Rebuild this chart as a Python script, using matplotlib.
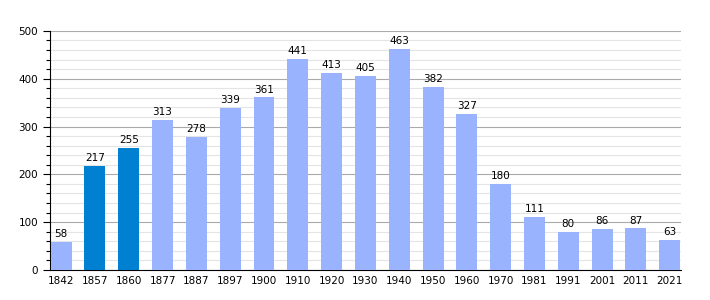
import matplotlib.pyplot as plt
from matplotlib.ticker import MultipleLocator

# Données
annees = ['1842', '1857', '1860', '1877', '1887', '1897', '1900', '1910', '1920', '1930',
          '1940', '1950', '1960', '1970', '1981', '1991', '2001', '2011', '2021']
population = [58, 217, 255, 313, 278, 339, 361, 441, 413, 405,
              463, 382, 327, 180, 111, 80, 86, 87, 63]
foncees = ['1857', '1860']

couleurs = ['#0080d0' if a in foncees else '#99b3ff' for a in annees]

fig = plt.figure(figsize=(7.1, 3.0), dpi=100)
ax = fig.add_axes([0.0704, 0.1, 0.8886, 0.797])

x = range(len(annees))
barres = ax.bar(x, population, width=0.62, color=couleurs, zorder=3)

for xi, v in zip(x, population):
    ax.text(xi, v + 6, str(v), ha='center', va='bottom', fontsize=7.5, zorder=4)

ax.set_xticks(list(x))
ax.set_xticklabels(annees, fontsize=7.5)
ax.set_xlim(-0.33, len(annees) - 0.67)
ax.set_ylim(0, 500)
ax.yaxis.set_major_locator(MultipleLocator(100))
ax.yaxis.set_minor_locator(MultipleLocator(20))
ax.tick_params(axis='y', labelsize=7.5, length=5, width=0.8)
ax.tick_params(axis='y', which='minor', length=3, width=0.8)
ax.tick_params(axis='x', length=0, pad=4)

ax.grid(axis='y', which='major', color='#aaaaaa', linewidth=0.8, zorder=0)
ax.grid(axis='y', which='minor', color='#e4e4e4', linewidth=0.8, zorder=0)

ax.spines['top'].set_visible(False)
ax.spines['right'].set_visible(False)

plt.savefig('out.png', dpi=100)
